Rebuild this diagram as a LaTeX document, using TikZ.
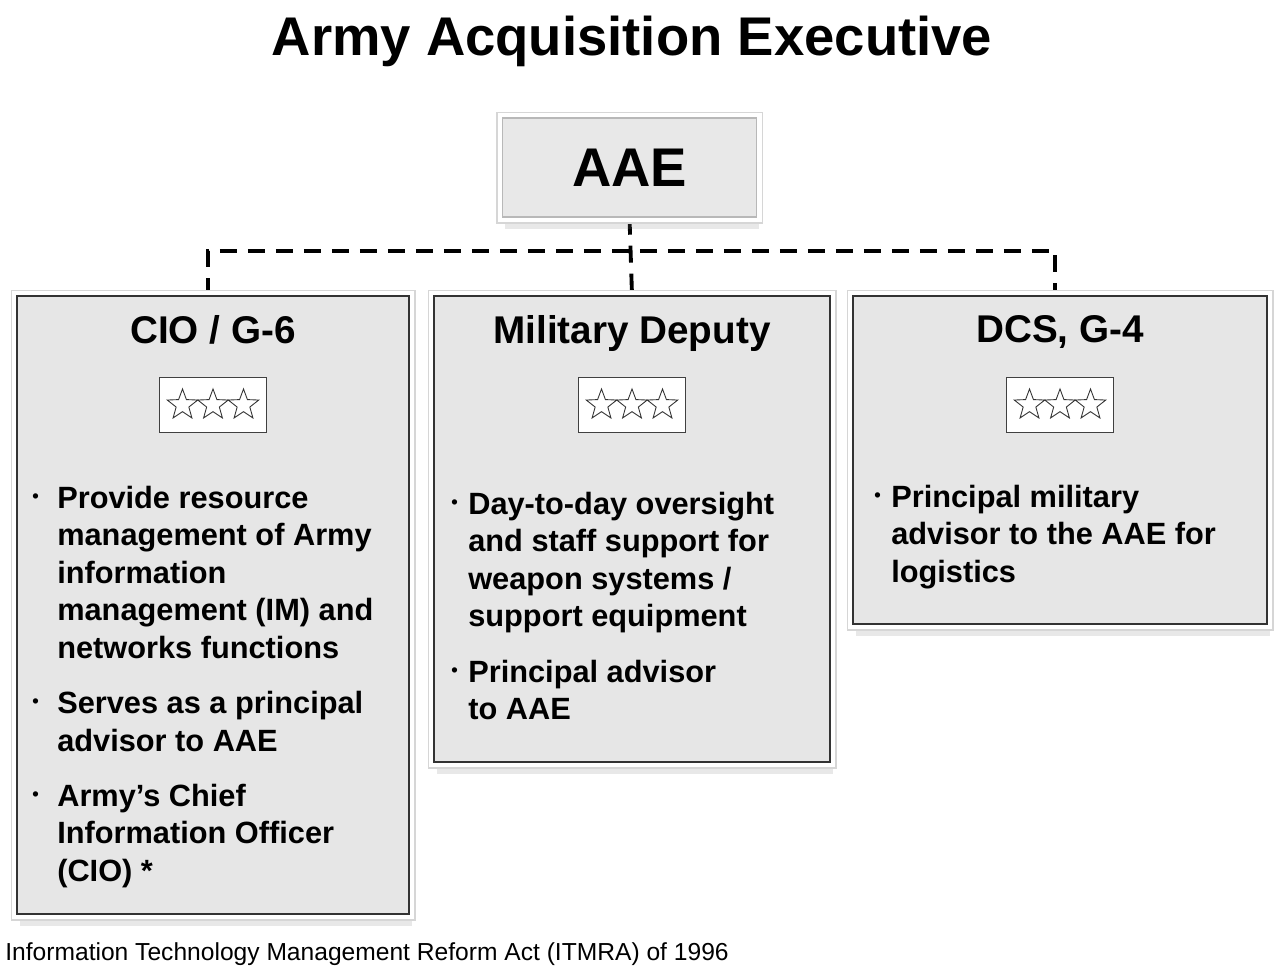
\documentclass[tikz,border=0pt]{standalone}
\usepackage{fontspec}
\setmainfont{Liberation Sans}
\usepackage{graphicx}
\usepackage{tikz}
\usetikzlibrary{positioning, shapes.geometric, shadows, backgrounds}
\definecolor{cfill}{HTML}{E6E6E6}
\definecolor{cline}{HTML}{333333}

% punto de la lista (con su sangria)
\newcommand{\bul}[1][0.34cm]{\makebox[#1][l]{\raisebox{0.2em}{\scalebox{0.6}{•}}}}

\begin{document}
\begin{tikzpicture}[
	% Estilo para las cajas de la organizacion
	orgbox/.style={
		rectangle,
		draw=cline,
		line width=1.2pt,
		fill=cfill,
		drop shadow={shadow xshift=0.05cm, shadow yshift=-0.24cm, opacity=0.18},
		preaction={draw=black!16, line width=0.26cm},
		preaction={draw=white, line width=0.2cm},
		inner sep=0pt
	},
	% Estilo para la caja superior
	topbox/.style={
		orgbox,
		draw=black!28,
		line width=0.8pt,
		fill=black!9,
		font=\fontsize{31}{36}\selectfont\bfseries
	},
	% Estilo para los titulos de las cajas
	boxtitle/.style={
		font=\fontsize{22}{26}\selectfont\bfseries,
		inner sep=0pt
	},
	% Estilo para el recuadro de las estrellas
	rankbox/.style={
		rectangle,
		draw=black!75,
		line width=0.6pt,
		fill=white,
		minimum width=2.14cm,
		minimum height=1.1cm
	},
	rankstar/.style={
		star,
		star points=5,
		star point ratio=2.4,
		draw=black!80,
		line width=0.5pt,
		minimum size=0.64cm,
		inner sep=0pt
	},
	% Estilo para el texto con vinetas
	itemlist/.style={
		font=\fontsize{17.5}{21.3}\selectfont\bfseries,
		inner sep=0pt
	},
	% Estilo para las lineas discontinuas
	link/.style={
		dash pattern=on 0.34cm off 0.22cm,
		line width=2.2pt
	}
	]
	
	\useasboundingbox (0,0) rectangle (25.5,-19.3);
	
	% --- Titulo ---
	\node[anchor=base, font=\fontsize{31}{36}\selectfont\bfseries, inner sep=0pt] (title) at (12.64,-1.1) {Army Acquisition Executive};
	
	% --- Caja AAE ---
	\node[topbox, minimum width=5.08cm, minimum height=1.98cm] (aae) at (12.59,-3.35) {AAE};
	
	% --- Cajas inferiores ---
	\node[orgbox, minimum width=7.84cm, minimum height=12.36cm] (cio) at (4.26,-12.1) {};
	\node[orgbox, minimum width=7.92cm, minimum height=9.32cm] (md) at (12.64,-10.58) {};
	\node[orgbox, minimum width=8.28cm, minimum height=6.56cm] (dcs) at (21.2,-9.2) {};
	
	% Lineas discontinuas (al fondo)
	\coordinate (bus) at ([yshift=-0.66cm]aae.south);
	\begin{scope}[on background layer]
		\draw[link] (aae.south) -- (md.north);
		\draw[link] ([xshift=-0.1cm]cio.north) |- (bus) -| ([xshift=-0.1cm]dcs.north);
	\end{scope}
	
	% --- CIO / G-6 ---
	\node[boxtitle, below=0.4cm of cio.north] (ciotitle) {CIO / G-6};
	\node[rankbox, below=1.64cm of cio.north] (ciorank) {};
	\foreach \s/\n in {-1/a,0/b,1/c}
		\node[rankstar] (ciostar\n) at ([xshift=\s*0.61cm]ciorank.center) {};
	\node[itemlist, below right=3.74cm and 0.32cm of cio.north west] (cioitems) {%
		\begin{tabular}{@{}l@{}l@{}}
			\bul[0.5cm] & Provide resource\\
			& management of Army\\
			& information\\
			& management (IM) and\\
			& networks functions\\[0.36cm]
			\bul[0.5cm] & Serves as a principal\\
			& advisor to AAE\\[0.36cm]
			\bul[0.5cm] & Army’s Chief\\
			& Information Officer\\
			& (CIO) *
		\end{tabular}};
	
	% --- Military Deputy ---
	\node[boxtitle, below=0.4cm of md.north] (mdtitle) {Military Deputy};
	\node[rankbox, below=1.64cm of md.north] (mdrank) {};
	\foreach \s/\n in {-1/a,0/b,1/c}
		\node[rankstar] (mdstar\n) at ([xshift=\s*0.61cm]mdrank.center) {};
	\node[itemlist, below right=3.86cm and 0.36cm of md.north west] (mditems) {%
		\begin{tabular}{@{}l@{}l@{}}
			\bul & Day-to-day oversight\\
			& and staff support for\\
			& weapon systems /\\
			& support equipment\\[0.36cm]
			\bul & Principal advisor\\
			& to AAE
		\end{tabular}};
	
	% --- DCS, G-4 ---
	\node[boxtitle, below=0.4cm of dcs.north] (dcstitle) {DCS, G-4};
	\node[rankbox, below=1.64cm of dcs.north] (dcsrank) {};
	\foreach \s/\n in {-1/a,0/b,1/c}
		\node[rankstar] (dcsstar\n) at ([xshift=\s*0.61cm]dcsrank.center) {};
	\node[itemlist, below right=3.72cm and 0.44cm of dcs.north west] (dcsitems) {%
		\begin{tabular}{@{}l@{}l@{}}
			\bul & Principal military\\
			& advisor to the AAE for\\
			& logistics
		\end{tabular}};
	
	% --- Nota al pie ---
	\node[anchor=base west, font=\fontsize{14}{16}\selectfont, inner sep=0pt] (note) at (0.1,-19.2) {Information Technology Management Reform Act (ITMRA) of 1996};
	
\end{tikzpicture}
\end{document}
